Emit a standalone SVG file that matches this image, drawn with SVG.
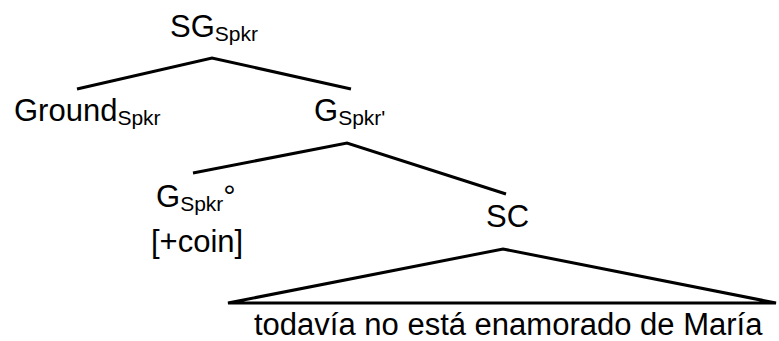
<svg xmlns="http://www.w3.org/2000/svg" width="779" height="341" viewBox="0 0 779 341">
<style>
text{font-family:"Liberation Sans",Arial,sans-serif;fill:#000;font-size:31px}
.sub{font-size:21px}
.edge{stroke:#000;stroke-width:3;fill:none;stroke-linejoin:miter}
</style>
<rect width="779" height="341" fill="#fff"/>
<g id="connectors">
<polyline class="edge" points="77,89 212,58 351,89"/>
<polyline class="edge" points="193,173 347,143 506,194"/>
<polygon class="edge" points="228,303 503,249 776,303"/>
</g>
<g id="SG"><text x="170" y="37">SG<tspan class="sub" dy="4">Spkr</tspan></text></g>
<g id="Ground"><text x="14" y="121">Ground<tspan class="sub" dy="4">Spkr</tspan></text></g>
<g id="Gprime"><text x="314" y="121">G<tspan class="sub" dy="4">Spkr'</tspan></text></g>
<g id="Gdeg"><text x="156" y="207">G<tspan class="sub" dy="4">Spkr</tspan><tspan dy="-4">°</tspan></text>
<text x="151" y="252">[+coin]</text></g>
<g id="SC"><text x="486" y="227">SC</text></g>
<g id="phrase"><text x="254" y="335">todavía no está enamorado de María</text></g>
</svg>
